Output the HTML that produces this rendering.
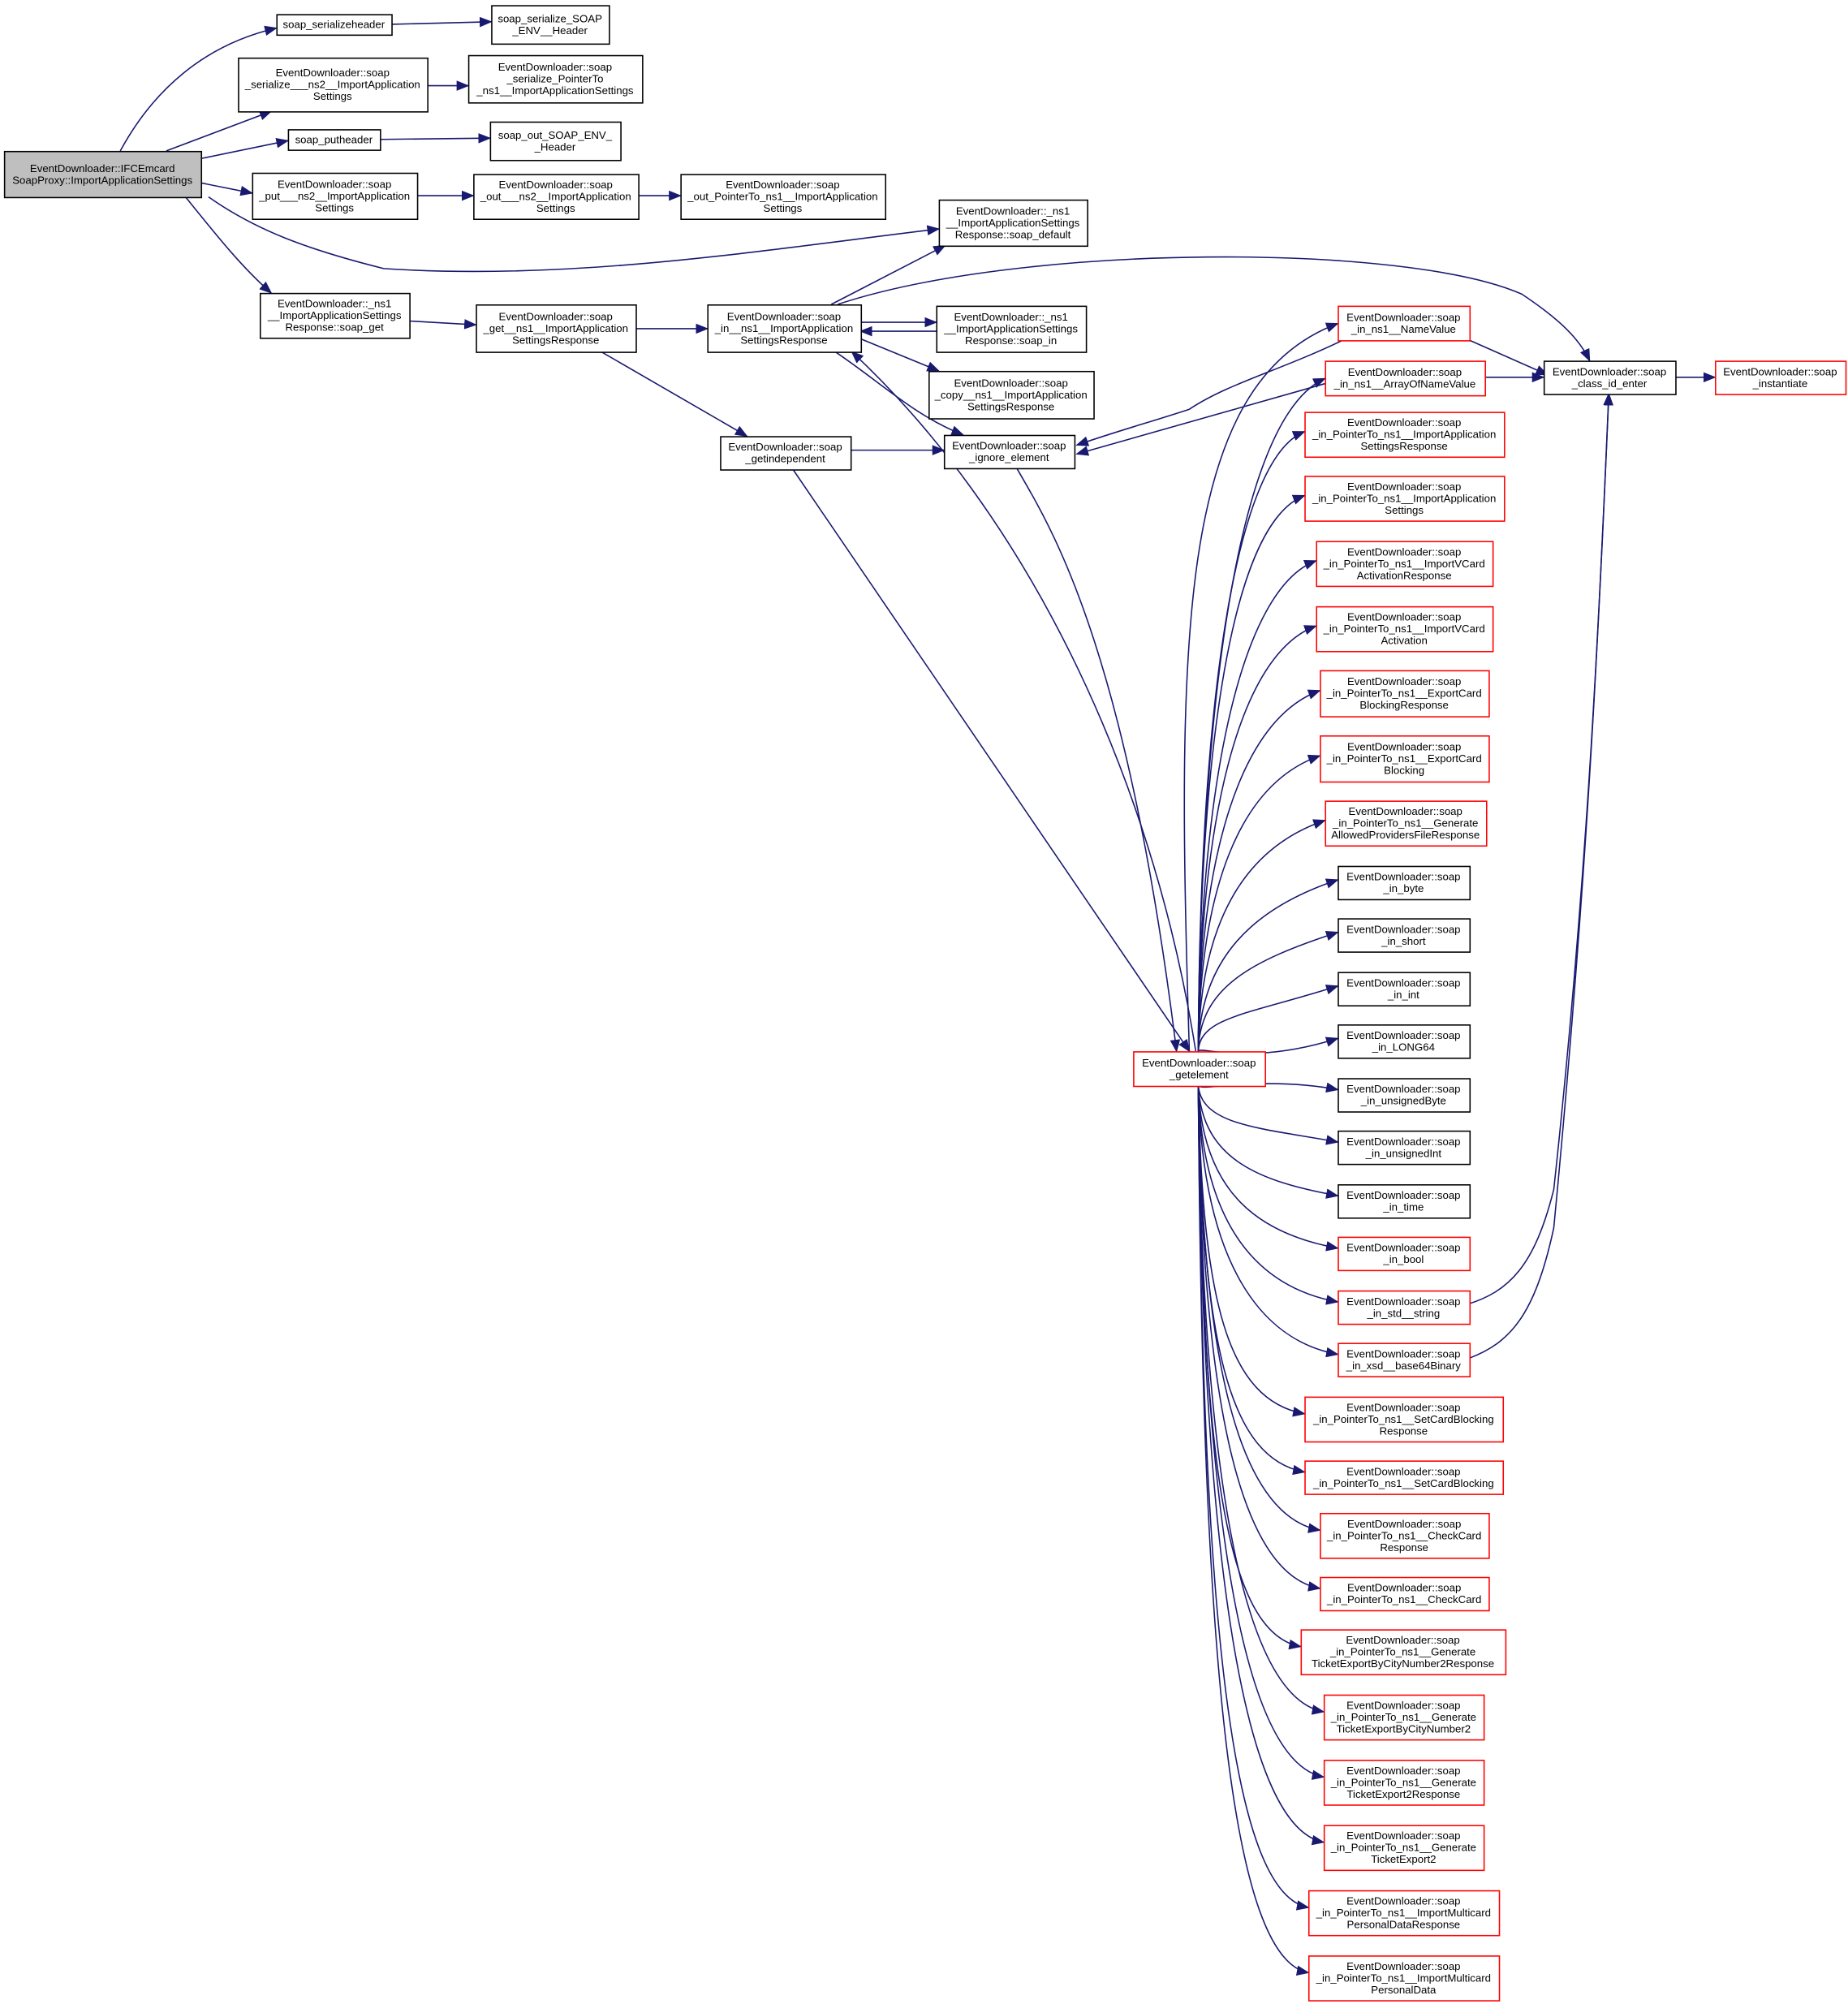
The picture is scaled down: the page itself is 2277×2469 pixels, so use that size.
<!DOCTYPE html>
<html><head><meta charset="utf-8"><style>html,body{margin:0;padding:0;background:#fff;}svg{display:block}</style></head>
<body>
<svg id="g" xmlns="http://www.w3.org/2000/svg" width="2277" height="2469" viewBox="0 0 1445 1567">
<defs><marker id="a" markerWidth="10" markerHeight="8" refX="9" refY="4" orient="auto" markerUnits="userSpaceOnUse"><path d="M0,0 L10,4 L0,8 z" fill="#191970"/></marker></defs>
<g id="edges" fill="none" stroke="#191970" stroke-width="1"></g>
<g id="nodes" font-family="Liberation Sans, sans-serif" font-size="8.4" text-anchor="middle"></g>
</svg>
<script>
var N={
main:[3,118,154,36,'g',['EventDownloader::IFCEmcard','SoapProxy::ImportApplicationSettings']],
sh:[216,11,90,16,'k',['soap_serializeheader']],
ssh:[384,4,92,30,'k',['soap_serialize_SOAP','_ENV__Header']],
sn2:[186,45,148,42,'k',['EventDownloader::soap','_serialize___ns2__ImportApplication','Settings']],
spt:[366,43,136,37,'k',['EventDownloader::soap','_serialize_PointerTo','_ns1__ImportApplicationSettings']],
ph:[225,101,72,16,'k',['soap_putheader']],
osh:[383,95,102,30,'k',['soap_out_SOAP_ENV_','_Header']],
pn2:[197,135,129,36,'k',['EventDownloader::soap','_put___ns2__ImportApplication','Settings']],
on2:[370,136,129,35,'k',['EventDownloader::soap','_out___ns2__ImportApplication','Settings']],
opt:[532,136,160,35,'k',['EventDownloader::soap','_out_PointerTo_ns1__ImportApplication','Settings']],
sd:[734,156,116,36,'k',['EventDownloader::_ns1','__ImportApplicationSettings','Response::soap_default']],
sg:[203,229,117,35,'k',['EventDownloader::_ns1','__ImportApplicationSettings','Response::soap_get']],
gn1:[372,238,125,37,'k',['EventDownloader::soap','_get__ns1__ImportApplication','SettingsResponse']],
in1:[553,238,120,37,'k',['EventDownloader::soap','_in__ns1__ImportApplication','SettingsResponse']],
si:[732,239,117,36,'k',['EventDownloader::_ns1','__ImportApplicationSettings','Response::soap_in']],
cp:[726,290,129,37,'k',['EventDownloader::soap','_copy__ns1__ImportApplication','SettingsResponse']],
gi:[563,341,102,26,'k',['EventDownloader::soap','_getindependent']],
ie:[738,340,102,26,'k',['EventDownloader::soap','_ignore_element']],
nv:[1046,239,103,27,'r',['EventDownloader::soap','_in_ns1__NameValue']],
anv:[1036,282,125,27,'r',['EventDownloader::soap','_in_ns1__ArrayOfNameValue']],
ce:[1207,282,103,26,'k',['EventDownloader::soap','_class_id_enter']],
ins:[1341,282,102,26,'r',['EventDownloader::soap','_instantiate']],
ge:[886,822,103,27,'r',['EventDownloader::soap','_getelement']]
};
var R=[
[1020,322,156,35,'r',['EventDownloader::soap','_in_PointerTo_ns1__ImportApplication','SettingsResponse']],
[1020,372,156,35,'r',['EventDownloader::soap','_in_PointerTo_ns1__ImportApplication','Settings']],
[1029,423,138,35,'r',['EventDownloader::soap','_in_PointerTo_ns1__ImportVCard','ActivationResponse']],
[1029,474,138,35,'r',['EventDownloader::soap','_in_PointerTo_ns1__ImportVCard','Activation']],
[1032,524,132,36,'r',['EventDownloader::soap','_in_PointerTo_ns1__ExportCard','BlockingResponse']],
[1032,575,132,36,'r',['EventDownloader::soap','_in_PointerTo_ns1__ExportCard','Blocking']],
[1036,626,126,35,'r',['EventDownloader::soap','_in_PointerTo_ns1__Generate','AllowedProvidersFileResponse']],
[1046,677,103,26,'k',['EventDownloader::soap','_in_byte']],
[1046,718,103,26,'k',['EventDownloader::soap','_in_short']],
[1046,760,103,26,'k',['EventDownloader::soap','_in_int']],
[1046,801,103,26,'k',['EventDownloader::soap','_in_LONG64']],
[1046,843,103,26,'k',['EventDownloader::soap','_in_unsignedByte']],
[1046,884,103,26,'k',['EventDownloader::soap','_in_unsignedInt']],
[1046,926,103,26,'k',['EventDownloader::soap','_in_time']],
[1046,967,103,26,'r',['EventDownloader::soap','_in_bool']],
[1046,1009,103,26,'r',['EventDownloader::soap','_in_std__string']],
[1046,1050,103,26,'r',['EventDownloader::soap','_in_xsd__base64Binary']],
[1020,1092,155,35,'r',['EventDownloader::soap','_in_PointerTo_ns1__SetCardBlocking','Response']],
[1020,1142,155,26,'r',['EventDownloader::soap','_in_PointerTo_ns1__SetCardBlocking']],
[1032,1183,132,35,'r',['EventDownloader::soap','_in_PointerTo_ns1__CheckCard','Response']],
[1032,1233,132,26,'r',['EventDownloader::soap','_in_PointerTo_ns1__CheckCard']],
[1017,1274,160,35,'r',['EventDownloader::soap','_in_PointerTo_ns1__Generate','TicketExportByCityNumber2Response']],
[1035,1325,125,35,'r',['EventDownloader::soap','_in_PointerTo_ns1__Generate','TicketExportByCityNumber2']],
[1035,1376,125,35,'r',['EventDownloader::soap','_in_PointerTo_ns1__Generate','TicketExport2Response']],
[1035,1427,125,35,'r',['EventDownloader::soap','_in_PointerTo_ns1__Generate','TicketExport2']],
[1023,1478,149,35,'r',['EventDownloader::soap','_in_PointerTo_ns1__ImportMulticard','PersonalDataResponse']],
[1023,1529,149,35,'r',['EventDownloader::soap','_in_PointerTo_ns1__ImportMulticard','PersonalData']]
];
var ns='http://www.w3.org/2000/svg',E=document.getElementById('edges'),G=document.getElementById('nodes');
function el(t,a,p){var e=document.createElementNS(ns,t);for(var k in a)e.setAttribute(k,a[k]);p.appendChild(e);return e;}
function node(n){var x=n[0],y=n[1],w=n[2],h=n[3],c=n[4],L=n[5];
el('rect',{x:x+.5,y:y+.5,width:w,height:h,fill:c=='g'?'#bfbfbf':'#fff',stroke:c=='r'?'#ff0000':'#000','stroke-width':1},G);
var lh=9.2,y0=y+h/2-(L.length-1)*lh/2+3;
L.forEach(function(s,i){var t=el('text',{x:x+w/2,y:y0+i*lh},G);t.textContent=s;});}
for(var k in N)node(N[k]);R.forEach(node);
function P(d,arrow){el('path',{d:d,'marker-end':arrow===false?'':'url(#a)'},E);}
P('M94,118 C120,70 160,35 216,22');
P('M306,19 L384,17');
P('M130,118 L212,87');
P('M334,67 L366,67');
P('M157,124 L225,110');
P('M297,109 L383,108');
P('M157,143 L197,151');
P('M326,153 L370,153');
P('M499,153 L532,153');
P('M163,154 C200,180 240,195 300,210 C450,220 600,195 734,179');
P('M145,154 C170,185 190,210 212,229');
P('M320,251 L372,254');
P('M497,257 L553,257');
P('M470,275 L584,341');
P('M650,238 L739,192');
P('M673,252 L732,252');
P('M732,259 L673,259');
P('M673,265 L734,290');
P('M653,275 C690,300 715,325 753,340');
P('M665,352 L738,352');
P('M655,238 C800,190 1100,190 1190,230 C1220,250 1235,265 1243,282');
P('M1149,266 L1210,293');
P('M1161,295 L1207,295');
P('M1310,295 L1341,295');
P('M1147,1020 C1180,1010 1200,990 1215,930 C1240,700 1250,500 1258,308');
P('M1149,1062 C1180,1050 1200,1030 1215,960 C1240,700 1250,500 1258,308');
P('M620,367 L930,822');
P('M795,366 C820,410 880,500 920,822');
P('M935,822 C900,600 800,400 666,275');
P('M1050,266 C1000,290 960,300 930,320 C900,330 880,335 842,348');
P('M1036,300 L842,355');
P('M930,822 C920,500 920,300 1046,253');
R.forEach(function(n){var tx=n[0],ty=n[1]+n[3]/2;
if(ty<822){P('M937,822 C938,'+(ty+(822-ty)*0.45)+' '+(tx-70+(822-ty)*0.03)+','+(ty+20)+' '+tx+','+(ty-2));}
else if(ty<=850){P('M989,'+(ty<836?829:842)+' L1046,'+ty);}
else{P('M937,849 C940,'+(ty-(ty-849)*0.35)+' '+(tx-60)+','+(ty-15)+' '+tx+','+(ty-4));}});
P('M937,822 C938,600 960,330 1036,296');
</script>
</body></html>
